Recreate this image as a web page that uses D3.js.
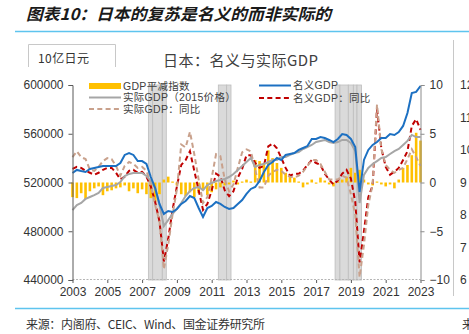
<!DOCTYPE html>
<html>
<head>
<meta charset="utf-8">
<script src="https://cdn.jsdelivr.net/npm/d3@7"></script>
<style>
body { margin: 0; background: #fff; }
svg text { font-family: "Noto Sans CJK SC", "Noto Sans", sans-serif; }
.num text, text.num { font-family: "Liberation Sans Narrow", "Arial Narrow", "Liberation Sans", sans-serif; }
text.legend { font-family: "Liberation Sans Narrow", "Liberation Sans", "Noto Sans CJK SC", sans-serif; }
</style>
</head>
<body>
<svg id="chart" width="469" height="334"></svg>
<script>
// quarterly series, first point = 2003 on the axis
const startYear = 2003;

// 名义GDP, 10亿日元 (left axis)
const nominalGDP = [527800, 530300, 529400, 528600, 531100, 531900, 532700, 533500, 533500, 533500,
    533500, 536000, 542600, 544200, 542600, 537600, 537600, 535200, 524500, 515500,
    502400, 494200, 496600, 495800, 498300, 502400, 504800, 508900, 507300, 499100,
    491700, 499100, 500700, 504000, 502400, 499900, 498300, 499100, 502400, 505600,
    510600, 514700, 516300, 521200, 528600, 534400, 536800, 540100, 538500, 542600,
    543400, 544200, 546700, 548300, 549900, 555700, 555700, 557300, 556500, 554900,
    553200, 555700, 559800, 559000, 555700, 549100, 512200, 538500, 546700, 550800,
    553200, 556500, 556500, 559800, 559000, 561400, 566400, 577000, 593400, 594300,
    599200];

// 实际GDP（2015价格） (left axis)
const realGDP = [497400, 501500, 503200, 506500, 508100, 509700, 511400, 515500, 516300, 517100,
    517900, 520400, 525300, 527000, 527800, 527800, 527800, 525300, 521200, 515500,
    501500, 484300, 489200, 494200, 498300, 503200, 508900, 513000, 515500, 516300,
    513800, 517900, 519600, 521200, 522100, 522900, 524500, 527000, 530300, 533500,
    536800, 540100, 532700, 534400, 535200, 536800, 538500, 538500, 540900, 540900,
    542600, 544200, 545000, 547500, 549100, 550800, 553200, 554100, 554900, 553200,
    552400, 553200, 554900, 554900, 552400, 545800, 503200, 526200, 531900, 535200,
    537600, 540100, 540900, 543400, 545800, 547500, 550800, 554100, 559000, 557300,
    557300];

// GDP平减指数 同比, % (right axis)
const deflatorYoy = [-1.5, -1.6, -1.1, -1.7, -0.9, -0.6, -0.4, -1.3, -0.9, -0.8,
    -0.6, -0.5, -0.3, -0.9, -0.6, -1.1, -0.7, -1.2, -1.6, -2.0,
    -1.2, 0.3, 0.6, 0.1, -0.3, -1.2, -1.4, -1.0, -1.5, -1.1,
    -0.8, -1.3, -1.0, -0.7, -0.5, -0.3, -0.2, 0.2, -0.2, 0.1,
    0.3, 0.1, 2.3, 2.2, 2.0, 3.3, 2.5, 2.0, 1.5, 1.0,
    0.7, 0.5, 0.1, -0.5, -0.2, 0.3, 0.0, 0.5, 0.2, -0.2,
    -0.4, 0.1, 0.3, 0.6, 1.5, 1.0, 1.3, 0.3, -0.2, -0.3,
    0.1, -0.2, -0.4, -0.2, -0.6, 0.3, 1.5, 1.8, 2.8, 5.1,
    4.3];

// 实际GDP：同比, % (right axis)
const realYoy = [2.6, 3.2, 2.6, 2.4, 1.3, 1.2, 1.6, 2.2, 2.5, 2.4,
    1.7, 0.7, 1.7, 2.1, 1.9, 1.5, 1.6, 1.2, -0.2, -2.3,
    -4.0, -8.9, -6.4, -3.3, -0.7, 3.9, 3.6, 5.2, 2.9, 0.3,
    -2.1, -1.5, 0.5, 2.9, 2.7, 0.3, -0.9, -0.2, 1.5, 3.1,
    3.4, 3.2, 1.3, -0.5, -0.5, 0.7, 1.1, 1.3, 1.2, 0.8,
    0.6, 0.5, 0.7, 1.1, 1.7, 2.3, 2.3, 1.9, 1.1, 0.3,
    0.3, 0.3, 0.7, 0.5, -1.2, -3.3, -9.7, -6.4, -2.3, -0.2,
    8.0, 3.4, 1.8, 1.3, 1.0, 1.3, 1.5, 2.4, 3.4, 2.6,
    1.7];

// 名义GDP：同比, % (right axis)
const nominalYoy = [1.4, 1.6, 1.5, 1.2, 1.0, 0.8, 1.0, 1.3, 1.5, 1.5,
    1.0, 0.3, 0.6, 1.2, 1.3, 1.0, 1.1, 0.6, -0.4, -2.0,
    -4.0, -8.1, -5.8, -2.8, -0.4, 1.8, 2.3, 3.2, 1.2, -0.8,
    -2.8, -2.2, -0.8, 0.9, 0.6, -0.8, -1.4, -0.9, 0.5, 1.4,
    2.8, 2.8, 2.0, 1.5, 1.7, 3.7, 4.0, 3.5, 2.5, 1.5,
    0.7, 0.9, 0.9, 1.2, 1.8, 2.3, 2.0, 1.8, 0.9, 0.3,
    -0.2, 0.2, 0.9, 1.3, 0.4, -2.0, -8.2, -5.0, -1.5, -0.3,
    7.5, 3.5, 1.6, 0.8, 1.1, 1.5, 2.3, 3.2, 5.8, 6.5,
    5.4];

// 衰退期阴影 (axis years)
const shadeBands = [[2007.36, 2007.61], [2007.61, 2008.16], [2008.16, 2008.39],
    [2011.38, 2011.86], [2011.86, 2012.11],
    [2018.09, 2018.37], [2018.37, 2018.85], [2018.85, 2019.14], [2019.14, 2019.35], [2019.35, 2019.61]];

const xTicks = [2003, 2005, 2007, 2009, 2011, 2013, 2015, 2017, 2019, 2021, 2023];
const leftTicks = [440000, 480000, 520000, 560000, 600000];
const rightTicks = [-10, -5, 0, 5, 10];
const nextChartTicks = ['12', '11', '10', '9', '8', '7', '6'];

const pageTitle = '图表10：日本的复苏是名义的而非实际的';
const chartTitle = '日本：名义与实际GDP';
const unitLabel = '10亿日元';
const sourceText = '来源：内阁府、CEIC、Wind、国金证券研究所';

const colors = {
    deflator: '#ffc000',
    real: '#a6a6a6',
    realYoy: '#c9a18c',
    nominal: '#1c70c2',
    nominalYoy: '#c00000'
};

let svg = d3.select('#chart');

const plot = { left: 72.5, right: 420.5, top: 85, bottom: 280 };

let xScale = d3.scaleLinear().domain([2003, 2023]).range([plot.left, plot.right]);
let yLeft = d3.scaleLinear().domain([440000, 600000]).range([plot.bottom, plot.top]);
let yRight = d3.scaleLinear().domain([-10, 10]).range([plot.bottom, plot.top]);

const t = function (i) { return startYear + i / 4; };

// header
svg.append('text').attr('x', 26).attr('y', 20)
    .attr('textLength', 305).attr('lengthAdjust', 'spacingAndGlyphs')
    .style('font-size', '16px').style('font-weight', 'bold').style('font-style', 'italic')
    .attr('fill', '#1a1a1a').text(pageTitle);
svg.append('line').attr('x1', 15).attr('x2', 469).attr('y1', 31.5).attr('y2', 31.5)
    .attr('stroke', '#5ec4ee').attr('stroke-width', 1.5);
svg.append('line').attr('x1', 15).attr('x2', 469).attr('y1', 308.5).attr('y2', 308.5)
    .attr('stroke', '#5ec4ee').attr('stroke-width', 1.5);

// unit box
svg.append('path').attr('d', 'M28.5,67V44.5H115.5V67')
    .attr('fill', 'none').attr('stroke', '#c8c8c8');
svg.append('text').attr('x', 38).attr('y', 63).attr('textLength', 51)
    .style('font-size', '12px').attr('fill', '#333').text(unitLabel);

svg.append('text').attr('x', 163).attr('y', 65.5).attr('textLength', 155)
    .style('font-size', '15px').attr('fill', '#404040').text(chartTitle);

// shading
svg.append('g').selectAll('rect').data(shadeBands).enter().append('rect')
    .attr('x', function (d) { return xScale(d[0]); })
    .attr('width', function (d) { return xScale(d[1]) - xScale(d[0]); })
    .attr('y', plot.top).attr('height', plot.bottom - plot.top)
    .attr('fill', '#dadada').attr('stroke', '#bdbdbd').attr('stroke-width', 0.8);

// bottom dotted baseline
svg.append('line').attr('x1', plot.left).attr('x2', plot.right)
    .attr('y1', plot.bottom - 0.5).attr('y2', plot.bottom - 0.5)
    .attr('stroke', '#b5b5b5').attr('stroke-dasharray', '2,1.5');

// bars
const barW = 2.6;
svg.append('g').selectAll('rect').data(deflatorYoy).enter().append('rect')
    .attr('x', function (d, i) { return xScale(t(i)) - barW / 2; })
    .attr('width', barW)
    .attr('y', function (d) { return Math.min(yRight(d), yRight(0)); })
    .attr('height', function (d) { return Math.max(Math.abs(yRight(d) - yRight(0)), 1.2); })
    .attr('fill', colors.deflator);

let lineLeft = d3.line().x(function (d, i) { return xScale(t(i)); }).y(function (d) { return yLeft(d); });
let lineRight = d3.line().x(function (d, i) { return xScale(t(i)); }).y(function (d) { return yRight(d); });

svg.append('path').datum(nominalYoy).attr('d', lineRight).attr('fill', 'none')
    .attr('stroke', colors.nominalYoy).attr('stroke-width', 2).attr('stroke-dasharray', '5,3.3');
svg.append('path').datum(realYoy).attr('d', lineRight).attr('fill', 'none')
    .attr('stroke', colors.realYoy).attr('stroke-width', 2).attr('stroke-dasharray', '5,3.3');
svg.append('path').datum(realGDP).attr('d', lineLeft).attr('fill', 'none')
    .attr('stroke', colors.real).attr('stroke-width', 2);
svg.append('path').datum(nominalGDP).attr('d', lineLeft).attr('fill', 'none')
    .attr('stroke', colors.nominal).attr('stroke-width', 2);

// axes
let xAxis = d3.axisBottom(xScale).tickValues(xTicks).tickFormat(d3.format('d')).tickSize(3).tickPadding(4);
let gx = svg.append('g').attr('class', 'num').attr('transform', 'translate(0,' + plot.bottom + ')').call(xAxis);
gx.select('.domain').remove();
gx.selectAll('line').attr('stroke', '#595959');
gx.selectAll('text').style('font-size', '12px').attr('fill', '#333');

let yAxisL = d3.axisLeft(yLeft).tickValues(leftTicks).tickFormat(d3.format('d')).tickSize(4).tickPadding(5);
let gl = svg.append('g').attr('class', 'num').attr('transform', 'translate(' + plot.left + ',0)').call(yAxisL);
gl.selectAll('path, line').attr('stroke', '#595959');
gl.selectAll('text').style('font-size', '12px').attr('fill', '#333');

let yAxisR = d3.axisRight(yRight).tickValues(rightTicks).tickSize(4).tickPadding(5);
let gr = svg.append('g').attr('class', 'num').attr('transform', 'translate(' + plot.right + ',0)').call(yAxisR);
gr.selectAll('path, line').attr('stroke', '#8c8c8c');
gr.selectAll('text').style('font-size', '12px').attr('fill', '#333');

// legend
const legendLeft = [
    { label: 'GDP平减指数', key: 'deflator', type: 'bar' },
    { label: '实际GDP（2015价格）', key: 'real', type: 'line' },
    { label: '实际GDP：同比', key: 'realYoy', type: 'dash' }
];
const legendRight = [
    { label: '名义GDP', key: 'nominal', type: 'line' },
    { label: '名义GDP：同比', key: 'nominalYoy', type: 'dash' }
];

let drawLegend = function (items, x0, y0, step) {
    items.forEach(function (d, i) {
        let y = y0 + i * step;
        if (d.type === 'bar') {
            svg.append('rect').attr('x', x0).attr('y', y - 3).attr('width', 32).attr('height', 6)
                .attr('fill', colors[d.key]);
        } else {
            svg.append('line').attr('x1', x0).attr('x2', x0 + 32).attr('y1', y).attr('y2', y)
                .attr('stroke', colors[d.key]).attr('stroke-width', 2)
                .attr('stroke-dasharray', d.type === 'dash' ? '5,3.3' : null);
        }
        svg.append('text').attr('class', 'legend').attr('x', x0 + 34).attr('y', y + 3.5)
            .style('font-size', '10.5px').style('letter-spacing', '0.3px')
            .attr('fill', '#404040').text(d.label);
    });
};
drawLegend(legendLeft, 89, 86, 11.5);
drawLegend(legendRight, 259, 85.5, 12.5);

// source
svg.append('text').attr('x', 26).attr('y', 329).attr('textLength', 239)
    .style('font-size', '12px').attr('fill', '#333').text(sourceText);

// edge of the neighbouring chart
svg.append('line').attr('x1', 453.5).attr('x2', 453.5).attr('y1', 40).attr('y2', 296)
    .attr('stroke', '#c8c8c8');
svg.append('g').selectAll('text').data(nextChartTicks).enter().append('text').attr('class', 'num')
    .attr('x', 460).attr('y', function (d, i) { return 89 + i * 32.5; })
    .style('font-size', '12px').attr('fill', '#333').text(function (d) { return d; });
svg.append('text').attr('x', 462).attr('y', 329).style('font-size', '12px').attr('fill', '#333').text('来');
</script>
</body>
</html>
